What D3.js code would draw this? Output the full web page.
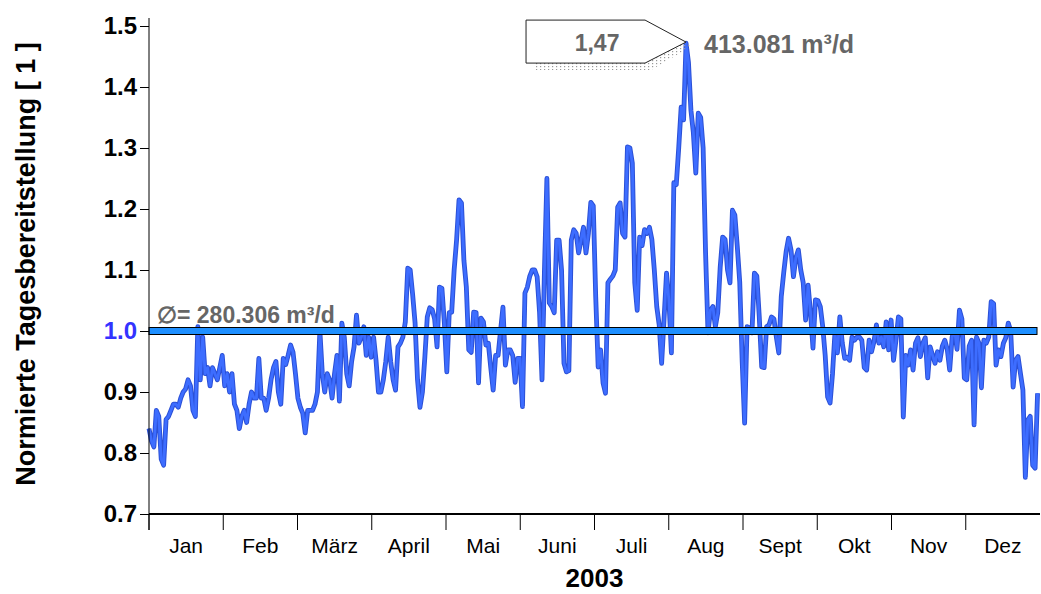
<!DOCTYPE html>
<html><head><meta charset="utf-8">
<script src="https://cdn.jsdelivr.net/npm/d3@7"></script>
<style>body{margin:0;background:#fff} svg{display:block;font-family:"Liberation Sans",Arial,sans-serif}</style>
</head><body><svg id="c" width="1041" height="594"></svg>
<script>
const months = ["Jan","Feb","März","April","Mai","Juni","Juli","Aug","Sept","Okt","Nov","Dez"];
const jan = [0.84,0.82,0.81,0.87,0.86,0.79,0.78,0.855,0.86,0.87,0.88,0.88,0.875,0.89,0.90,0.905,0.92,0.91,0.87,0.86,1.007,0.92,0.99,0.93,0.94,0.91,0.94,0.93,0.92,0.94,0.96];
const feb = [0.91,0.93,0.90,0.93,0.88,0.87,0.84,0.86,0.87,0.85,0.88,0.90,0.89,0.89,0.955,0.89,0.89,0.87,0.89,0.92,0.94,0.95,0.90,0.88,0.955,0.945,0.96,0.977];
const mar = [0.965,0.93,0.89,0.875,0.865,0.833,0.87,0.87,0.87,0.88,0.90,1.00,0.93,0.90,0.93,0.92,0.89,0.93,0.96,0.885,1.013,0.99,0.93,0.91,0.95,0.974,1.026,0.98,0.99,1.007,0.96];
const apr = [0.99,0.957,0.99,0.952,0.90,0.90,0.92,0.95,0.99,0.95,0.92,0.903,0.974,0.98,0.99,1.015,1.103,1.10,1.06,1.013,0.92,0.875,0.90,0.957,1.023,1.038,1.035,1.02,0.974,1.072];
const mai = [1.07,1.013,0.933,1.03,1.031,1.10,1.149,1.215,1.21,1.116,1.072,0.969,0.965,1.031,1.03,0.915,1.021,1.015,0.977,0.98,0.94,0.903,0.96,0.96,1.00,1.039,0.944,0.969,0.969,0.96,0.916];
const jun = [0.955,0.955,0.876,1.062,1.072,1.09,1.10,1.10,1.089,1.03,0.92,1.10,1.25,1.046,1.04,1.03,1.149,1.149,1.10,0.947,0.933,0.935,1.149,1.166,1.16,1.128,1.149,1.17,1.128,1.16];
const jul = [1.211,1.205,1.056,0.941,0.969,0.915,0.898,1.079,1.085,1.09,1.10,1.203,1.21,1.16,1.154,1.302,1.30,1.275,1.079,1.034,1.154,1.14,1.166,1.16,1.17,1.15,1.10,1.04,1.01,0.947,1.02];
const aug = [1.095,1.05,0.964,1.243,1.24,1.30,1.367,1.346,1.472,1.44,1.362,1.325,1.259,1.357,1.35,1.30,1.128,0.997,1.034,1.04,1.007,1.03,1.105,1.154,1.15,1.10,1.079,1.198,1.19,1.138,1.08];
const sep = [0.95,0.849,1.007,1.005,0.997,1.095,1.09,1.023,0.941,0.94,1.007,1.01,1.023,1.02,0.99,0.964,1.056,1.095,1.13,1.152,1.133,1.089,1.12,1.133,1.10,1.079,1.018,1.075,1.03,0.972];
const okt = [1.051,1.05,1.04,1.007,0.96,0.892,0.882,0.93,0.997,0.964,1.023,0.98,0.955,0.957,0.952,0.99,0.985,0.99,0.99,0.985,0.94,0.936,0.985,0.966,0.983,1.01,0.98,0.99,0.974,1.015,0.969];
const nov = [1.018,0.952,0.985,1.023,1.02,0.859,0.96,0.944,0.969,0.936,0.98,0.989,0.958,0.98,0.989,0.923,0.974,0.96,0.947,0.966,0.952,0.975,0.985,0.97,0.936,0.99,1.002,0.97,1.034,1.02];
const dez = [0.923,0.92,0.975,0.985,0.846,0.99,0.98,0.907,0.985,0.98,0.99,1.048,1.045,0.944,0.969,0.958,0.98,0.989,1.013,1.00,0.908,0.952,0.958,0.93,0.903,0.76,0.854,0.86,0.78,0.775,0.898];
const monthValues = [jan,feb,mar,apr,mai,jun,jul,aug,sep,okt,nov,dez];
const yTicks = [0.7,0.8,0.9,1.0,1.1,1.2,1.3,1.4,1.5];
const meanValue = 1.0;
const meanLabel = "\u2205= 280.306 m³/d";
const peakLabel = "1,47";
const peakAbsLabel = "413.081 m³/d";
const yearLabel = "2003";
const yTitle = "Normierte Tagesbereitstellung [ 1 ]";

const values = monthValues.flat();
const nDays = values.length;
const data = values.map((v, i) => ({t: i, v}));
const monthStep = nDays / 12;

const svg = d3.select("#c");
const x = d3.scaleLinear().domain([0, nDays]).range([149, 1040]);
const y = d3.scaleLinear().domain([0.7, 1.5]).range([514, 26]);
const line = d3.line().x(d => x(d.t)).y(d => y(d.v));

// shadow dot pattern
const defs = svg.append("defs");
const pat = defs.append("pattern").attr("id", "dots").attr("patternUnits", "userSpaceOnUse")
  .attr("width", 4).attr("height", 3);
pat.append("rect").attr("width", 1.2).attr("height", 1.2).attr("fill", "#999");

// data line
svg.append("path").datum(data)
  .attr("fill", "none").attr("stroke", "#2b50d6").attr("stroke-width", 4.8)
  .attr("stroke-linejoin", "round").attr("d", line);
svg.append("path").datum(data)
  .attr("fill", "none").attr("stroke", "#3d6dff").attr("stroke-width", 2.8)
  .attr("stroke-linejoin", "round").attr("d", line);

// mean band
svg.append("rect")
  .attr("x", x(0)).attr("y", y(meanValue) - 3.5)
  .attr("width", x(nDays) - x(0) - 3).attr("height", 7)
  .attr("fill", "#1e8fff").attr("stroke", "#000").attr("stroke-width", 1);
svg.append("text").attr("x", x(0) + 8).attr("y", y(meanValue) - 8)
  .attr("font-size", 23).attr("font-weight", "bold").attr("fill", "#666")
  .text(meanLabel);

// y axis
const ya = svg.append("g").attr("transform", `translate(${x(0)},0)`)
  .call(d3.axisLeft(y).tickValues(yTicks).tickSize(9).tickPadding(3).tickFormat(d3.format(".1f")));
ya.select(".domain").remove();
ya.selectAll("text").attr("font-size", 24).attr("font-weight", "bold")
  .attr("font-family", "Liberation Sans, Arial, sans-serif")
  .attr("fill", d => d === meanValue ? "#3333ff" : "#000");
svg.append("line").attr("x1", x(0)).attr("x2", x(0))
  .attr("y1", y(1.5) - 8).attr("y2", y(0.7) + 16).attr("stroke", "#000");

// x axis
svg.append("line").attr("x1", x(0)).attr("x2", x(nDays)).attr("y1", y(0.7)).attr("y2", y(0.7))
  .attr("stroke", "#000").attr("stroke-width", 2);
svg.append("g").selectAll("line").data(d3.range(12)).join("line")
  .attr("x1", d => x(d * monthStep)).attr("x2", d => x(d * monthStep))
  .attr("y1", y(0.7)).attr("y2", y(0.7) + 16).attr("stroke", "#000");
svg.append("g").selectAll("text").data(months).join("text")
  .attr("x", (d, i) => x((i + 0.5) * monthStep)).attr("y", y(0.7) + 39)
  .attr("text-anchor", "middle").attr("font-size", 21).attr("fill", "#000")
  .text(d => d);
svg.append("text").attr("x", (x(0) + x(nDays)) / 2).attr("y", 587)
  .attr("text-anchor", "middle").attr("font-size", 26).attr("font-weight", "bold")
  .text(yearLabel);

// y title
svg.append("text").attr("transform", `translate(35,264) rotate(-90)`)
  .attr("text-anchor", "middle").attr("font-size", 27).attr("font-weight", "bold")
  .text(yTitle);

// peak annotation
const peak = data.reduce((a, b) => b.v > a.v ? b : a);
const px = x(peak.t), py = y(peak.v);
const pts = [[px - 160, py - 23], [px - 41, py - 23], [px, py - 1], [px - 41, py + 20], [px - 160, py + 20]];
const shadow = [[px - 152, py + 20], [px - 41, py + 20], [px, py - 1], [px + 6, py + 3], [px - 35, py + 27], [px - 152, py + 27]];
svg.append("polygon").attr("points", shadow.map(p => p.join(",")).join(" "))
  .attr("fill", "url(#dots)");
svg.append("polygon").attr("points", pts.map(p => p.join(",")).join(" "))
  .attr("fill", "#fff").attr("stroke", "#222").attr("stroke-width", 1);
svg.append("text").attr("x", px - 89).attr("y", py + 8)
  .attr("text-anchor", "middle").attr("font-size", 23).attr("font-weight", "bold").attr("fill", "#666")
  .text(peakLabel);
svg.append("text").attr("x", px + 18).attr("y", py + 10)
  .attr("font-size", 25).attr("font-weight", "bold").attr("fill", "#666")
  .text(peakAbsLabel);
</script></body></html>
